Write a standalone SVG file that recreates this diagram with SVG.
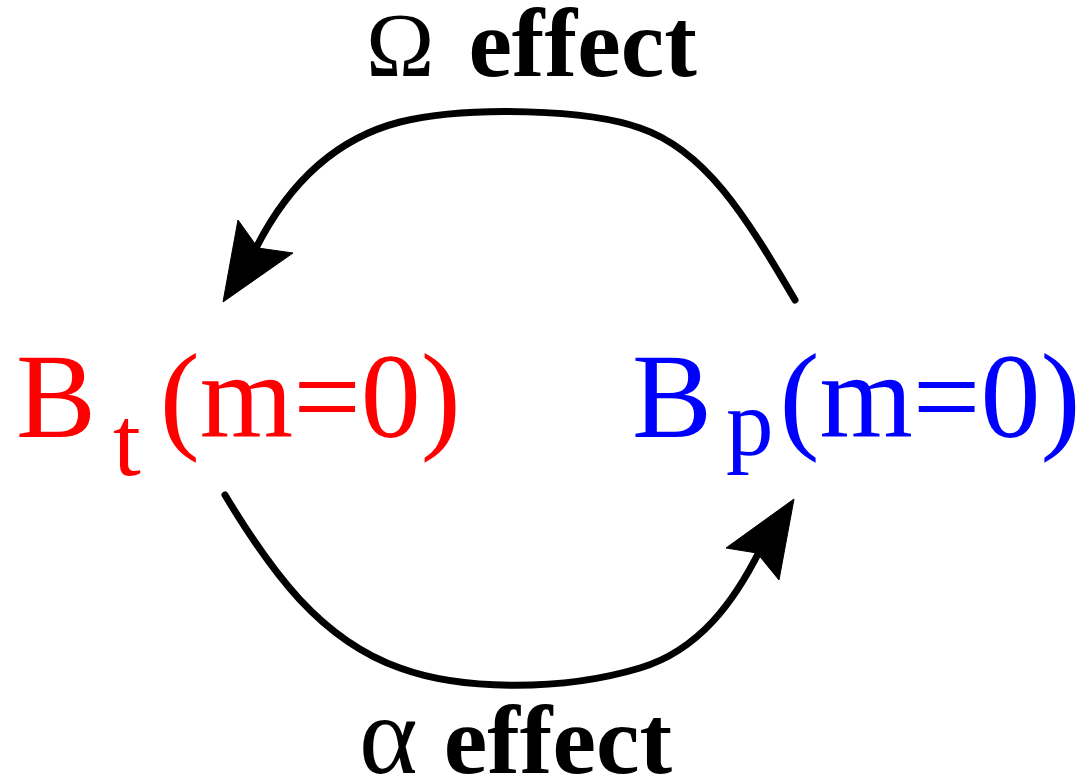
<svg xmlns="http://www.w3.org/2000/svg" width="1078" height="783" viewBox="0 0 1078 783">
<style>
.lbl{font-family:"Liberation Serif","Times New Roman",serif;}
.eff{font-family:"Liberation Serif","Times New Roman",serif;font-weight:bold;fill:#000;}
.greek{font-weight:normal;}
.arc{fill:none;stroke:#000;stroke-width:7;stroke-linecap:round;}
.head{fill:#000;stroke:#000;stroke-width:1;stroke-linejoin:miter;}
</style>
<rect width="1078" height="783" fill="#fff"/>
<g id="connectors">
  <g id="omega-arc">
    <path class="arc" d="M795,300 C745,215 705,150 640,128 C590,110 470,105 400,122 C330,140 285,190 255,250"/>
    <polygon class="head" points="223,302 238,220 258,248 293,253"/>
  </g>
  <g id="alpha-arc">
    <path class="arc" d="M225,495 C270,570 320,640 400,668 C460,690 560,692 640,668 C700,650 735,600 760,550"/>
    <polygon class="head" points="794,499 779,580 757,553 726,548"/>
  </g>
</g>
<g id="label-omega">
  <text class="eff" x="366" y="76"><tspan class="greek" font-size="92">Ω</tspan><tspan font-size="98" dx="34">effect</tspan></text>
</g>
<g id="label-alpha">
  <text class="eff" x="359" y="773"><tspan class="greek" font-size="112">α</tspan><tspan font-size="98" dx="26">effect</tspan></text>
</g>
<g id="node-Bt">
  <text class="lbl" fill="#ff0000" x="16" y="437" font-size="120">B<tspan font-size="100" dx="17" dy="38">t</tspan><tspan dx="19" dy="-38">(m=0)</tspan></text>
</g>
<g id="node-Bp">
  <text class="lbl" fill="#0000ff" x="632" y="437" font-size="120">B<tspan font-size="95" dx="14" dy="18">p</tspan><tspan dx="6" dy="-18">(m=0)</tspan></text>
</g>
</svg>
